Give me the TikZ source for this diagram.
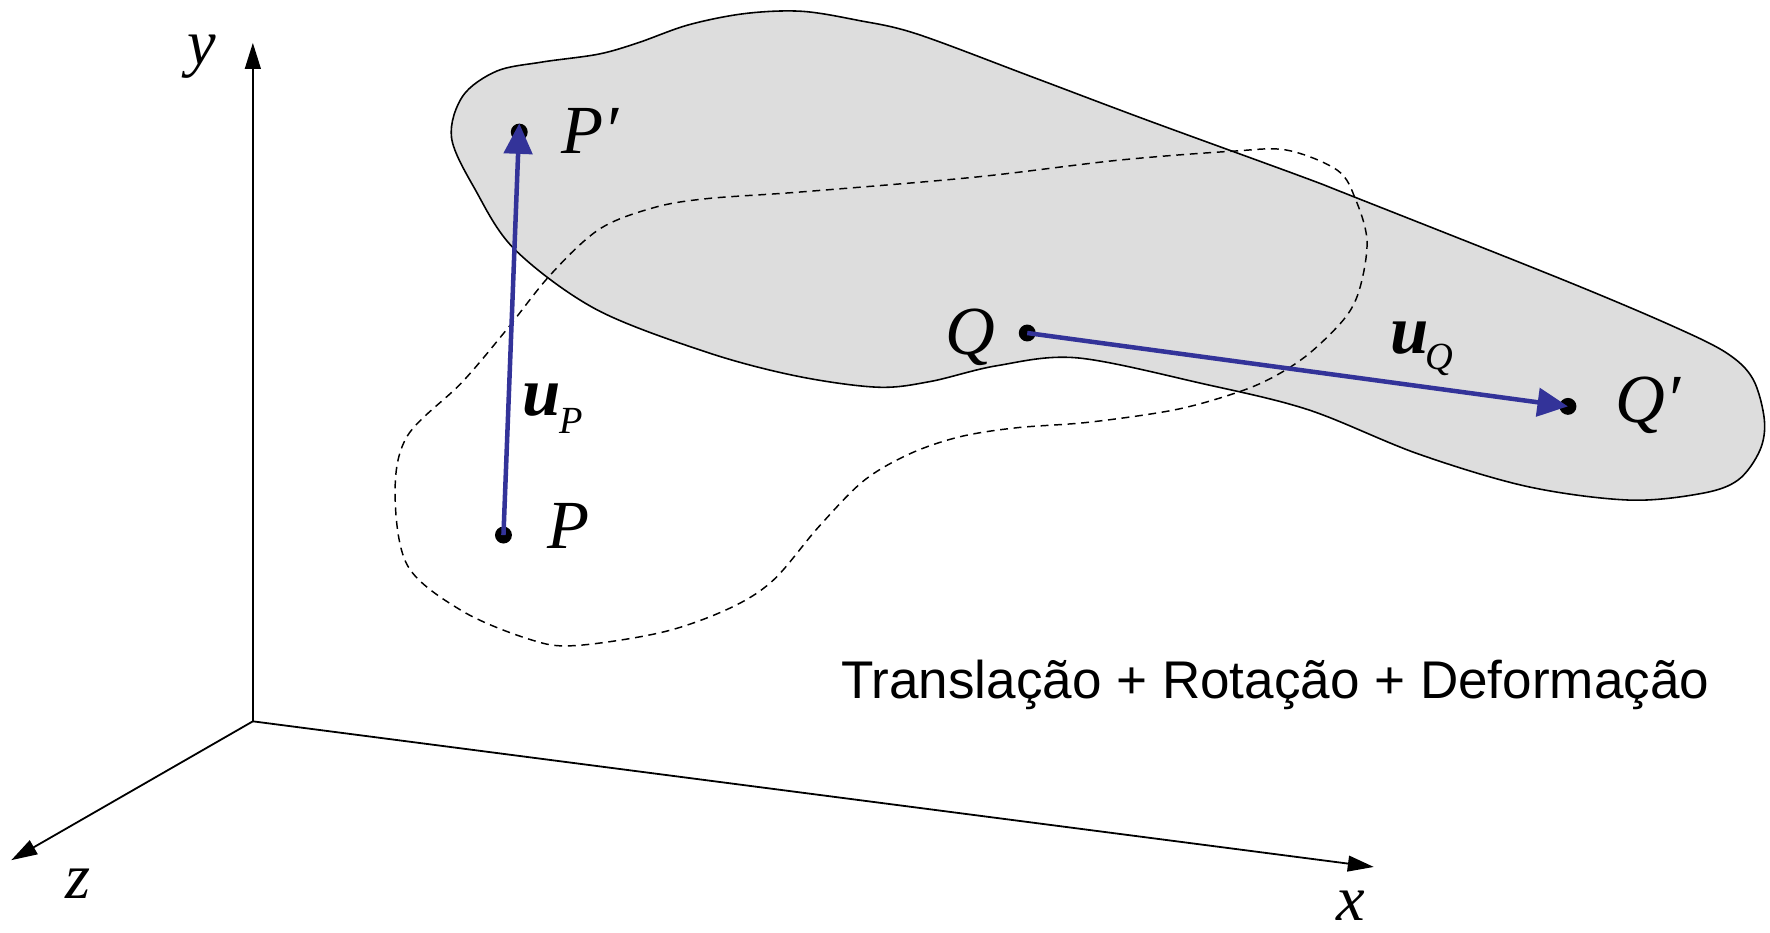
\documentclass[tikz,border=0pt]{standalone}
\usepackage{fontspec}
\setmainfont{Liberation Serif}
\newfontfamily\sansf{Liberation Sans}
\usetikzlibrary{arrows.meta}
\definecolor{vecblue}{RGB}{51,51,153}
\definecolor{bodygray}{RGB}{221,221,221}
\begin{document}
\begin{tikzpicture}[x=1pt,y=-1pt,
  axis/.style={line width=1.6pt, -{Triangle[length=23pt,width=14pt]}},
  vec/.style={vecblue, line width=4pt, -{Triangle[length=27pt,width=25pt]}},
  dot/.style={circle, fill=black, inner sep=0pt, minimum size=15pt},
  lbl/.style={inner sep=0pt, anchor=base west, font=\fontsize{61}{70}\selectfont\itshape},
  axlbl/.style={inner sep=0pt, font=\fontsize{57}{66}\selectfont\itshape},
  ubold/.style={inner sep=0pt, anchor=base west, font=\fontsize{61}{70}\selectfont\bfseries\itshape},
  sublbl/.style={inner sep=0pt, anchor=base west, font=\fontsize{34}{40}\selectfont\itshape},
  body/.style={draw=black, line width=1.4pt, fill=bodygray},
  orig/.style={draw=black, line width=1.3pt, dash pattern=on 7pt off 5pt}
]
\useasboundingbox (0,0) rectangle (1568,826);

% deformed body
\path[body] plot[smooth cycle, tension=0.55] coordinates {
  (400,122) (410,85) (440,63) (480,55) (530,48) (565,38) (610,22) (660,12)
  (710,10) (760,18) (812,30) (914,68) (1015,106) (1152,156) (1201,175)
  (1385,248) (1482,289) (1530,313) (1553,336) (1563,372) (1559,399)
  (1540,425) (1508,437) (1443,443) (1353,431) (1256,402) (1159,363)
  (1066,340) (954,317) (883,324) (824,338) (777,343) (705,333) (626,312)
  (528,274) (456,221) (421,168)};

% original body
\path[orig] plot[smooth cycle, tension=0.55] coordinates {
  (350,436) (361,386) (409,339) (448,293) (488,243) (531,203) (579,184)
  (626,176) (710,170) (863,157) (990,142) (1091,134) (1140,133) (1185,151)
  (1201,177) (1211,213) (1205,254) (1192,281) (1160,313) (1128,334)
  (1095,348) (1041,363) (965,374) (900,379) (850,387) (806,402) (765,426)
  (725,467) (685,514) (646,539) (587,560) (508,572) (468,566) (409,541)
  (361,501)};

% axes
\coordinate (O) at (224,639);
\coordinate (ytip) at (224,38);
\coordinate (xtip) at (1217,768);
\coordinate (ztip) at (10,762);
\draw[axis] (O) -- (ytip);
\draw[axis] (O) -- (xtip);
\draw[axis] (O) -- (ztip);
\node[axlbl] (ylab) at (179,50) {y};
\node[axlbl] (zlab) at (69,783) {z};
\node[axlbl] (xlab) at (1197,802) {x};

% points
\node[dot] (P) at (446,474) {};
\node[dot] (Pp) at (460,117) {};
\node[dot] (Q) at (910,295) {};
\node[dot] (Qp) at (1389,360) {};

% displacement vectors
\draw[vec] (P.center) -- (Pp.north);
\draw[vec] (Q.center) -- (Qp.center);

% labels
\node[lbl] (Plab) at (485,486) {P};
\node[lbl] (Pplab) at (497,136) {P′};
\node[lbl] (Qlab) at (837,314) {Q};
\node[lbl] (Qplab) at (1431,374) {Q′};
\node[ubold] (uP) at (463,368) {u};
\node[sublbl] (uPs) at (495,384) {P};
\node[ubold] (uQ) at (1232,313) {u};
\node[sublbl] (uQs) at (1263,327) {Q};

\node[inner sep=0pt, anchor=base west, font=\sansf\fontsize{47}{55}\selectfont] (cap) at (745,619) {Translação + Rotação + Deformação};
\end{tikzpicture}
\end{document}
